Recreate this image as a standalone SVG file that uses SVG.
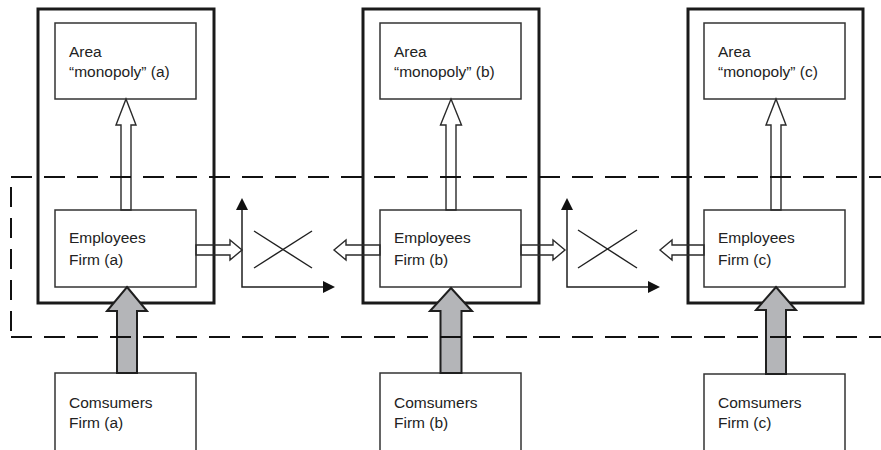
<svg xmlns="http://www.w3.org/2000/svg" width="881" height="450" viewBox="0 0 881 450">
  <defs>
    <style>
      .outer { fill: none; stroke: #1a1a1a; stroke-width: 3; }
      .box { fill: #ffffff; stroke: #333333; stroke-width: 1.5; }
      .lbl { font-family: "Liberation Sans", Arial, Helvetica, sans-serif; font-size: 15.5px; fill: #222222; }
      .hollow { fill: none; stroke: #2a2a2a; stroke-width: 1.4; stroke-linejoin: miter; }
      .flow { fill: #b4b5b8; stroke: #1f1f1f; stroke-width: 2; stroke-linejoin: miter; }
      .axis { fill: none; stroke: #1f1f1f; stroke-width: 1.5; }
      .cross { stroke: #1f1f1f; stroke-width: 1.4; }
      .dash { fill: none; stroke: #111111; stroke-width: 2; }
    </style>
    <marker id="tri" markerUnits="userSpaceOnUse" markerWidth="14" markerHeight="14" refX="1" refY="6" orient="auto-start-reverse">
      <path d="M0,0 L12,6 L0,12 Z" fill="#111111"/>
    </marker>
  </defs>

  <rect width="881" height="450" fill="#ffffff"/>

  <!-- Firm (a) column -->
  <g id="firm-a">
    <rect class="outer" x="38" y="9" width="176" height="294"/>
    <g id="area-a">
      <rect class="box" x="55" y="23" width="141" height="76"/>
      <text class="lbl" x="69" y="57">Area</text>
      <text class="lbl" x="69" y="77">“monopoly” (a)</text>
    </g>
    <g id="employees-a">
      <rect class="box" x="55" y="210" width="141" height="77"/>
      <text class="lbl" x="69" y="243">Employees</text>
      <text class="lbl" x="69" y="265">Firm (a)</text>
    </g>
  </g>

  <!-- Firm (b) column -->
  <g id="firm-b">
    <rect class="outer" x="363" y="9" width="176" height="294"/>
    <g id="area-b">
      <rect class="box" x="380" y="23" width="141" height="76"/>
      <text class="lbl" x="394" y="57">Area</text>
      <text class="lbl" x="394" y="77">“monopoly” (b)</text>
    </g>
    <g id="employees-b">
      <rect class="box" x="380" y="210" width="141" height="77"/>
      <text class="lbl" x="394" y="243">Employees</text>
      <text class="lbl" x="394" y="265">Firm (b)</text>
    </g>
  </g>

  <!-- Firm (c) column -->
  <g id="firm-c">
    <rect class="outer" x="688" y="9" width="175" height="294"/>
    <g id="area-c">
      <rect class="box" x="704" y="23" width="141" height="76"/>
      <text class="lbl" x="718" y="57">Area</text>
      <text class="lbl" x="718" y="77">“monopoly” (c)</text>
    </g>
    <g id="employees-c">
      <rect class="box" x="704" y="210" width="141" height="77"/>
      <text class="lbl" x="718" y="243">Employees</text>
      <text class="lbl" x="718" y="265">Firm (c)</text>
    </g>
  </g>

  <!-- Consumer boxes -->
  <g id="consumers-a">
    <rect class="box" x="55" y="373" width="141" height="90"/>
    <text class="lbl" x="69" y="408">Comsumers</text>
    <text class="lbl" x="69" y="428">Firm (a)</text>
  </g>
  <g id="consumers-b">
    <rect class="box" x="380" y="373" width="141" height="90"/>
    <text class="lbl" x="394" y="408">Comsumers</text>
    <text class="lbl" x="394" y="428">Firm (b)</text>
  </g>
  <g id="consumers-c">
    <rect class="box" x="704" y="374" width="141" height="90"/>
    <text class="lbl" x="718" y="408">Comsumers</text>
    <text class="lbl" x="718" y="428">Firm (c)</text>
  </g>

  <!-- Exchange diagrams between firms -->
  <g id="exchange-ab">
    <path class="axis" d="M242 209 V287 H324" marker-start="url(#tri)" marker-end="url(#tri)"/>
    <line class="cross" x1="254" y1="231" x2="312" y2="268"/>
    <line class="cross" x1="254" y1="268" x2="312" y2="231"/>
  </g>
  <g id="exchange-bc">
    <path class="axis" d="M567 209 V287 H649" marker-start="url(#tri)" marker-end="url(#tri)"/>
    <line class="cross" x1="578" y1="230" x2="637" y2="268"/>
    <line class="cross" x1="578" y1="268" x2="637" y2="230"/>
  </g>

  <!-- Connectors -->
  <g id="connectors">
    <!-- employees to area monopoly -->
    <polygon class="hollow" points="126,99 136,125 131,125 131,210 121,210 121,125 116,125"/>
    <polygon class="hollow" points="451,99 461.5,125 456,125 456,210 446,210 446,125 440.5,125"/>
    <polygon class="hollow" points="776,99 786,125 781,125 781,210 771,210 771,125 766,125"/>
    <!-- employees towards neighbouring exchange -->
    <polygon class="hollow" points="196,245 230,245 230,240 242,250 230,260 230,255 196,255"/>
    <polygon class="hollow" points="380,245 346,245 346,240 334,250 346,260 346,255 380,255"/>
    <polygon class="hollow" points="521,245 553,245 553,240 565,250 553,260 553,255 521,255"/>
    <polygon class="hollow" points="704,245 672,245 672,240 660,250 672,260 672,255 704,255"/>
    <!-- consumers to employees -->
    <polygon class="flow" points="127,287 147,311 137,311 137,373 117,373 117,311 107,311"/>
    <polygon class="flow" points="451,288 472,311 461.5,311 461.5,373 440.5,373 440.5,311 430,311"/>
    <polygon class="flow" points="776,287 796,310 786,310 786,374 766,374 766,310 756,310"/>
  </g>

  <!-- Dashed boundary -->
  <g id="boundary">
    <line class="dash" x1="11" y1="177" x2="881" y2="177" stroke-dasharray="21 12"/>
    <line class="dash" x1="11" y1="337" x2="881" y2="337" stroke-dasharray="21 12"/>
    <line class="dash" x1="11" y1="187" x2="11" y2="332" stroke-dasharray="20 11"/>
  </g>
</svg>
